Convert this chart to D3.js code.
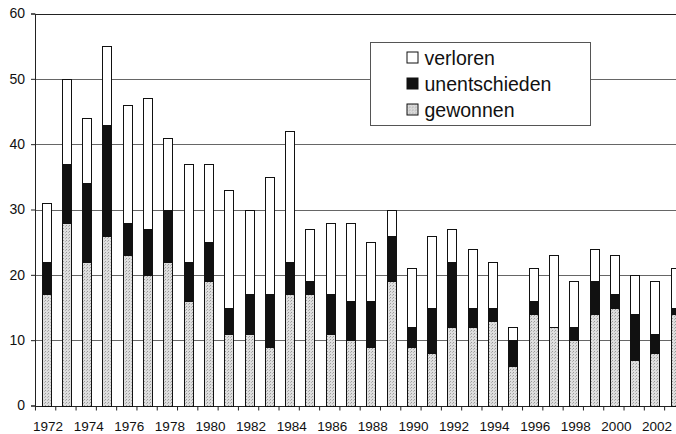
<!DOCTYPE html>
<html>
<head>
<meta charset="utf-8">
<script src="https://cdn.jsdelivr.net/npm/d3@7"></script>
<style>
  body { margin: 0; background: #fff; }
  svg { display: block; font-family: Arial, "Liberation Sans", sans-serif; }
</style>
</head>
<body>
<div id="container"></div>
<script>
const width = 676; // Chart's dimensions
const height = 434;

// Data
const years = d3.range(1972, 2004);
const gewonnen =      [17, 28, 22, 26, 23, 20, 22, 16, 19, 11, 11,  9, 17, 17, 11, 10,  9, 19,  9,  8, 12, 12, 13,  6, 14, 12, 10, 14, 15,  7,  8, 14];
const unentschieden = [ 5,  9, 12, 17,  5,  7,  8,  6,  6,  4,  6,  8,  5,  2,  6,  6,  7,  7,  3,  7, 10,  3,  2,  4,  2,  0,  2,  5,  2,  7,  3,  1];
const verloren =      [ 9, 13, 10, 12, 18, 20, 11, 15, 12, 18, 13, 18, 20,  8, 11, 12,  9,  4,  9, 11,  5,  9,  7,  2,  5, 11,  7,  5,  6,  6,  8,  6];
const yTicks = [0, 10, 20, 30, 40, 50, 60];
const keys = ["gewonnen", "unentschieden", "verloren"];
const legendKeys = ["verloren", "unentschieden", "gewonnen"];

const rows = years.map((year, i) => ({
  year: year,
  gewonnen: gewonnen[i],
  unentschieden: unentschieden[i],
  verloren: verloren[i]
}));

const series = d3.stack().keys(keys)(rows);

const x = d3.scaleBand()
  .domain(years)
  .range([37.5, 37.5 + years.length * 20.2])
  .paddingInner(0.55)
  .paddingOuter(0.2);

const y = d3.scaleLinear()
  .domain([0, 60])
  .range([405.5, 13.5]);

const svg = d3.select("#container").append("svg")
  .attr("width", width)
  .attr("height", height)
  .attr("viewBox", [0, 0, width, height]);

// stippled grey used by the scanned "gewonnen" bars
const defs = svg.append("defs");
const pat = defs.append("pattern")
  .attr("id", "stipple")
  .attr("width", 3).attr("height", 3)
  .attr("patternUnits", "userSpaceOnUse");
pat.append("rect").attr("width", 3).attr("height", 3).attr("fill", "#dedede");
pat.append("rect").attr("x", 0).attr("y", 0).attr("width", 1).attr("height", 1).attr("fill", "#9a9a9a");
pat.append("rect").attr("x", 2).attr("y", 1).attr("width", 1).attr("height", 1).attr("fill", "#b5b5b5");

const fill = d3.scaleOrdinal()
  .domain(keys)
  .range(["url(#stipple)", "#111", "#fff"]);

// grid lines
svg.append("g")
  .selectAll("line")
  .data(yTicks.filter(d => d > 0))
  .join("line")
  .attr("x1", 35).attr("x2", width)
  .attr("y1", d => Math.round(y(d)) + 0.5)
  .attr("y2", d => Math.round(y(d)) + 0.5)
  .attr("stroke", d => d === 60 ? "#222" : "#666")
  .attr("stroke-width", 1);

// y axis
svg.append("g")
  .attr("transform", "translate(35,0)")
  .call(d3.axisLeft(y).tickValues(yTicks).tickSize(4).tickPadding(6))
  .call(g => g.select(".domain").attr("stroke", "#222"))
  .call(g => g.selectAll(".tick line").attr("stroke", "#222"))
  .call(g => g.selectAll("text").attr("font-size", 14).attr("fill", "#111").attr("font-family", null));

// x axis: ticks between categories, every other year labelled
const xAxis = svg.append("g")
  .attr("transform", `translate(0,${Math.round(y(0)) + 0.5})`);
xAxis.append("line")
  .attr("x1", 35).attr("x2", width)
  .attr("stroke", "#222");
xAxis.selectAll("line.tk")
  .data(years)
  .join("line")
  .attr("class", "tk")
  .attr("x1", d => x(d) - x.step() * x.paddingInner() / 2 - 0.5)
  .attr("x2", d => x(d) - x.step() * x.paddingInner() / 2 - 0.5)
  .attr("y1", 0).attr("y2", 4)
  .attr("stroke", "#222");
xAxis.selectAll("text")
  .data(years.filter((d, i) => i % 2 === 0))
  .join("text")
  .attr("x", d => x(d) + x.bandwidth() / 2 + 2)
  .attr("y", 24)
  .attr("text-anchor", "middle")
  .attr("font-size", 13.5)
  .attr("fill", "#111")
  .text(d => d);

// stacked bars
svg.append("g")
  .selectAll("g")
  .data(series)
  .join("g")
  .attr("fill", d => fill(d.key))
  .selectAll("rect")
  .data(D => D.filter(d => d[1] > d[0]))
  .join("rect")
  .attr("x", d => Math.round(x(d.data.year)) + 0.5)
  .attr("y", d => Math.round(y(d[1])) + 0.5)
  .attr("height", d => Math.round(y(d[0])) - Math.round(y(d[1])))
  .attr("width", Math.round(x.bandwidth()))
  .attr("stroke", "#111")
  .attr("stroke-width", 1);

// legend
const legend = svg.append("g").attr("transform", "translate(370.5,42.5)");
legend.append("rect")
  .attr("width", 220).attr("height", 83)
  .attr("fill", "#fff")
  .attr("stroke", "#555");
const item = legend.selectAll("g")
  .data(legendKeys)
  .join("g")
  .attr("transform", (d, i) => `translate(36,${15 + i * 26})`);
item.append("rect")
  .attr("x", 0.5).attr("y", -5.5)
  .attr("width", 11).attr("height", 11)
  .attr("fill", d => fill(d))
  .attr("stroke", "#111");
item.append("text")
  .attr("x", 18)
  .attr("y", 7)
  .attr("font-size", 19.5)
  .attr("fill", "#111")
  .text(d => d);
</script>
</body>
</html>
